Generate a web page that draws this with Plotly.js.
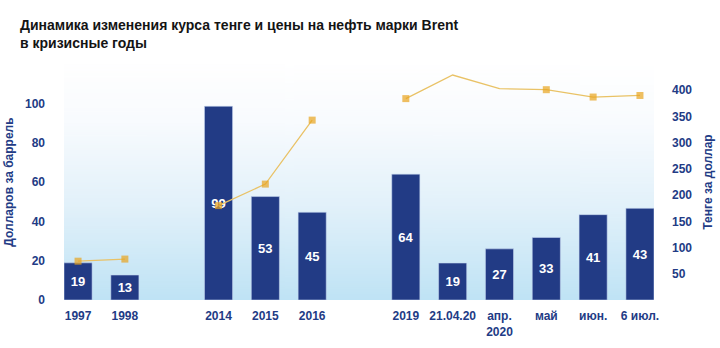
<!DOCTYPE html>
<html>
<head>
<meta charset="utf-8">
<script src="https://cdn.plot.ly/plotly-3.0.1.min.js"></script>
<style>
html,body{margin:0;padding:0;background:#fff;}
#chart{width:720px;height:348px;}
</style>
</head>
<body>
<div id="chart"></div>
<script>
// ---- data ----
var categories = ['1997','1998','2014','2015','2016','2019','21.04.20','апр.<br>2020','май','июн.','6 июл.'];
var periods    = [1,1,2,2,2,3,3,3,3,3,3];
var oilPrice   = [18.9, 12.7, 98.5, 52.6, 44.6, 64.0, 18.8, 26.0, 31.8, 43.4, 46.6];
var oilLabels  = ['19','13','99','53','45','64','19','27','33','41','43'];
var tengeRate  = [74, 78, 180, 221, 343, 384, 429, 403, 401, 387, 390];
var tengeMarked= [true,true,true,true,true,true,false,false,true,true,true];
var leftTicks  = [0,20,40,60,80,100];
var rightTicks = [50,100,150,200,250,300,350,400];

// ---- build category order with spacers between periods ----
var catOrder = [];
var sp = ' ';
for (var i = 0; i < categories.length; i++) {
  if (i > 0 && periods[i] !== periods[i-1]) { catOrder.push(sp); sp += ' '; }
  catOrder.push(categories[i]);
}

// ---- gradient background image ----
var cv = document.createElement('canvas');
cv.width = 4; cv.height = 256;
var ctx = cv.getContext('2d');
var g = ctx.createLinearGradient(0,0,0,256);
g.addColorStop(0,'#ffffff');
g.addColorStop(0.25,'#f8fbfe');
g.addColorStop(0.6,'#e2f1fa');
g.addColorStop(1,'#bfe3f5');
ctx.fillStyle = g; ctx.fillRect(0,0,4,256);
var bgUrl = cv.toDataURL();

var NAVY = '#223B85';
var FONT = '"Liberation Sans", Arial, sans-serif';

var traces = [{
  type:'bar', x:categories, y:oilPrice, text:oilLabels,
  texttemplate:'%{text}', textposition:'inside', insidetextanchor:'middle', textangle:0,
  textfont:{family:FONT, size:13, color:'#ffffff', weight:'bold'},
  marker:{color:NAVY, line:{color:'rgba(200,215,240,0.7)', width:0.8}},
  width:0.6, hoverinfo:'skip', cliponaxis:false
}];

// line segments per period
var uniq = [];
periods.forEach(function(p){ if (uniq.indexOf(p) < 0) uniq.push(p); });
uniq.forEach(function(p){
  var xs=[], ys=[], sz=[];
  for (var i=0;i<categories.length;i++) if (periods[i]===p) {
    xs.push(categories[i]); ys.push(tengeRate[i]); sz.push(tengeMarked[i]?7:0);
  }
  traces.push({
    type:'scatter', mode:'lines+markers', x:xs, y:ys, yaxis:'y2',
    line:{color:'#E9C266', width:1.3},
    marker:{symbol:'square', size:sz, color:'#E8A41E', line:{width:0}},
    hoverinfo:'skip', cliponaxis:false
  });
});

var layout = {
  width:720, height:348,
  margin:{l:64, r:66, t:64, b:48},
  paper_bgcolor:'#ffffff', plot_bgcolor:'rgba(0,0,0,0)',
  showlegend:false,
  title:{
    text:'Динамика изменения курса тенге и цены на нефть марки Brent<br>в кризисные годы',
    x:20/720, xref:'container', xanchor:'left',
    y:1-30/348, yref:'container', yanchor:'top',
    pad:{l:0, r:0, t:0, b:0},
    font:{family:FONT, size:14, color:'#141414', weight:'bold'}
  },
  xaxis:{
    type:'category', categoryorder:'array', categoryarray:catOrder,
    range:[-0.3, catOrder.length-0.7], tickangle:0, ticklabelstandoff:7,
    showgrid:false, zeroline:false, showline:false, ticks:'',
    tickfont:{family:FONT, size:12, color:NAVY, weight:'bold'}
  },
  yaxis:{
    range:[0,120], tickvals:leftTicks, showgrid:false, zeroline:false, showline:false,
    ticks:'', ticklabelstandoff:18,
    tickfont:{family:FONT, size:12, color:NAVY, weight:'bold'},
    title:{text:'Долларов за баррель', standoff:8, font:{family:FONT, size:12, color:NAVY, weight:'bold'}}
  },
  yaxis2:{
    overlaying:'y', side:'right', range:[0,450], tickvals:rightTicks,
    showgrid:false, zeroline:false, showline:false, ticks:'', ticklabelstandoff:17,
    tickfont:{family:FONT, size:12, color:NAVY, weight:'bold'},
    title:{text:'Тенге за доллар', standoff:12, font:{family:FONT, size:12, color:NAVY, weight:'bold'}}
  },
  images:[{
    source:bgUrl, xref:'paper', yref:'paper', x:0, y:1, sizex:1, sizey:1,
    sizing:'stretch', layer:'below', xanchor:'left', yanchor:'top'
  }]
};

Plotly.newPlot('chart', traces, layout, {staticPlot:true, displayModeBar:false});
</script>
</body>
</html>
